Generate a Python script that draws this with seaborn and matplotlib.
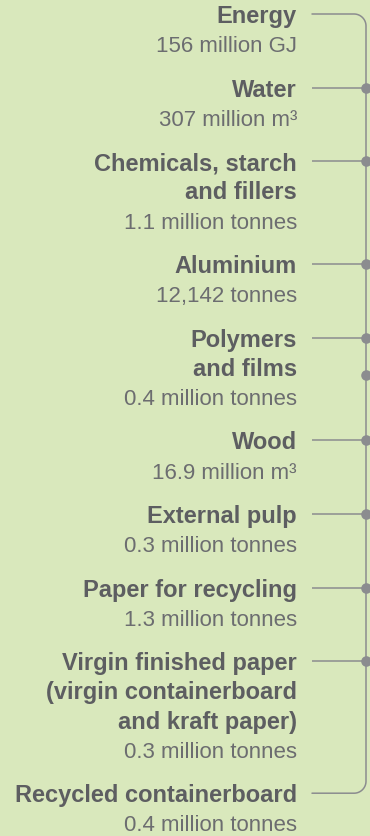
import numpy as np
import matplotlib
matplotlib.use("Agg")
import matplotlib.pyplot as plt
import seaborn as sns

# data
names = [
    "Energy",
    "Water",
    "Chemicals, starch\nand fillers",
    "Aluminium",
    "Polymers\nand films",
    "Wood",
    "External pulp",
    "Paper for recycling",
    "Virgin finished paper\n(virgin containerboard\nand kraft paper)",
    "Recycled containerboard",
]
values = [
    "156 million GJ",
    "307 million m³",
    "1.1 million tonnes",
    "12,142 tonnes",
    "0.4 million tonnes",
    "16.9 million m³",
    "0.3 million tonnes",
    "1.3 million tonnes",
    "0.3 million tonnes",
    "0.4 million tonnes",
]

bg = "#d9e8bc"
name_col = "#5d5e61"
value_col = "#6c6d70"
line_col = "#8b8c8f"

sns.set_style("white")
plt.rcParams["font.family"] = ["Liberation Sans", "DejaVu Sans"]

fig = plt.figure(figsize=(3.7, 8.37), dpi=100, facecolor=bg)
ax = fig.add_axes([0, 0, 1, 1])
ax.set_facecolor(bg)

lh = 29.2      # line height
gap = 15.2     # gap between entries
text_x = 297
line_x0 = 312
vx = 366
r = 12

# lay out the text and collect the y of each entry
y = 15
entry_y = []
dot_y = []
for name, val in zip(names, values):
    entry_y.append(y)
    for line in name.split("\n"):
        ax.text(text_x, y + 8, line, ha="right", va="baseline",
                fontsize=17, fontweight="bold", color=name_col)
        y += lh
    ax.text(text_x, y + 8, val, ha="right", va="baseline",
            fontsize=16, color=value_col)
    y += lh + gap

# horizontal ticks
for i, ey in enumerate(entry_y):
    if i == 0 or i == len(entry_y) - 1:
        continue
    ax.plot([line_x0, vx], [ey, ey], color=line_col, lw=1.1, solid_capstyle="butt")
    dot_y.append(ey)

# extra dot under "Polymers and films"
dot_y.append(entry_y[4] + 37)

# bracket with rounded ends
top, bot = entry_y[0], entry_y[-1]
t = np.linspace(0, np.pi / 2, 30)
xs = np.concatenate([[line_x0, vx - r], vx - r + r * np.sin(t), [vx, vx],
                     vx - r + r * np.cos(t), [vx - r, line_x0]])
ys = np.concatenate([[top, top], top + r - r * np.cos(t), [top + r, bot - r],
                     bot - r + r * np.sin(t), [bot, bot]])
ax.plot(xs, ys, color=line_col, lw=1.1)

sns.scatterplot(x=[vx] * len(dot_y), y=dot_y, ax=ax, s=58, color=line_col,
                linewidth=0, zorder=3, legend=False)
ax.set_xlim(0, 370)
ax.set_ylim(837, 0)
ax.axis("off")

fig.savefig("out.png", dpi=100, facecolor=bg)
